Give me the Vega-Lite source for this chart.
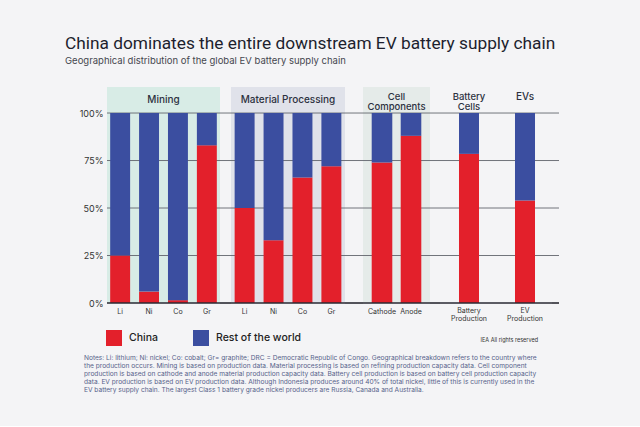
{
  "$schema": "https://vega.github.io/schema/vega-lite/v6.json",
  "background": "#f4f4f6",
  "padding": {"left": 65, "top": 35, "right": 80, "bottom": 32},
  "title": {
    "text": "China dominates the entire downstream EV battery supply chain",
    "subtitle": "Geographical distribution of the global EV battery supply chain",
    "anchor": "start",
    "frame": "group",
    "dx": -42,
    "font": "Roboto",
    "fontSize": 17.3,
    "fontWeight": "normal",
    "color": "#1d1f2e",
    "subtitleFont": "Inter",
    "subtitleFontSize": 9.5,
    "subtitleColor": "#45474f",
    "subtitlePadding": 3,
    "offset": 22
  },
  "datasets": {
    "grid": [{"v": 0}, {"v": 0.25}, {"v": 0.5}, {"v": 0.75}, {"v": 1}],
    "bars": [
      {"stage": "Mining", "item": "Li", "region": "China", "share": 0.25},
      {"stage": "Mining", "item": "Li", "region": "Rest of the world", "share": 0.75},
      {"stage": "Mining", "item": "Ni", "region": "China", "share": 0.06},
      {"stage": "Mining", "item": "Ni", "region": "Rest of the world", "share": 0.94},
      {"stage": "Mining", "item": "Co", "region": "China", "share": 0.015},
      {"stage": "Mining", "item": "Co", "region": "Rest of the world", "share": 0.985},
      {"stage": "Mining", "item": "Gr", "region": "China", "share": 0.83},
      {"stage": "Mining", "item": "Gr", "region": "Rest of the world", "share": 0.17},
      {"stage": "Material Processing", "item": "Li", "region": "China", "share": 0.5},
      {"stage": "Material Processing", "item": "Li", "region": "Rest of the world", "share": 0.5},
      {"stage": "Material Processing", "item": "Ni", "region": "China", "share": 0.33},
      {"stage": "Material Processing", "item": "Ni", "region": "Rest of the world", "share": 0.67},
      {"stage": "Material Processing", "item": "Co", "region": "China", "share": 0.66},
      {"stage": "Material Processing", "item": "Co", "region": "Rest of the world", "share": 0.34},
      {"stage": "Material Processing", "item": "Gr", "region": "China", "share": 0.72},
      {"stage": "Material Processing", "item": "Gr", "region": "Rest of the world", "share": 0.28},
      {"stage": "Cell Components", "item": "Cathode", "region": "China", "share": 0.74},
      {"stage": "Cell Components", "item": "Cathode", "region": "Rest of the world", "share": 0.26},
      {"stage": "Cell Components", "item": "Anode", "region": "China", "share": 0.88},
      {"stage": "Cell Components", "item": "Anode", "region": "Rest of the world", "share": 0.12},
      {"stage": "Battery Cells", "item": "Battery Production", "region": "China", "share": 0.785},
      {"stage": "Battery Cells", "item": "Battery Production", "region": "Rest of the world", "share": 0.215},
      {"stage": "EVs", "item": "EV Production", "region": "China", "share": 0.54},
      {"stage": "EVs", "item": "EV Production", "region": "Rest of the world", "share": 0.46}
    ],
    "notes": [
      {"line": 1, "text": "Notes: Li: lithium; Ni: nickel; Co: cobalt; Gr= graphite; DRC = Democratic Republic of Congo. Geographical breakdown refers to the country where"},
      {"line": 2, "text": "the production occurs. Mining is based on production data. Material processing is based on refining production capacity data. Cell component"},
      {"line": 3, "text": "production is based on cathode and anode material production capacity data. Battery cell production is based on battery cell production capacity"},
      {"line": 4, "text": "data. EV production is based on EV production data. Although Indonesia produces around 40% of total nickel, little of this is currently used in the"},
      {"line": 5, "text": "EV battery supply chain. The largest Class 1 battery grade nickel producers are Russia, Canada and Australia."}
    ]
  },
  "resolve": {"scale": {"x": "independent", "y": "independent"}},
  "spacing": 16,
  "vconcat": [
    {
      "spacing": 0,
      "bounds": "flush",
      "resolve": {"scale": {"y": "shared", "x": "independent"}},
      "hconcat": [
        {
          "width": 113, "height": 216,
          "view": {"fill": "#d8ece6"},
          "title": {"text": "Mining", "offset": -18, "fontSize": 10, "fontWeight": 500, "color": "#2c3140"},
          "layer": [
            {
              "data": {"name": "grid"},
              "transform": [{"filter": "datum.v > 0"}],
              "mark": {"type": "rule", "color": "#62656d", "strokeWidth": 0.9},
              "encoding": {
                "y": {"field": "v", "type": "quantitative", "scale": {"domain": [0, 1.137], "nice": false},
                  "axis": {"values": [0, 0.25, 0.5, 0.75, 1], "format": ".0%", "title": null, "domain": false, "ticks": false, "grid": false, "labelPadding": 4, "labelFontSize": 9}}
              }
            },
            {
              "data": {"name": "bars"},
              "transform": [{"filter": "datum.stage == 'Mining'"}],
              "mark": {"type": "bar"},
              "encoding": {
                "x": {"field": "item", "type": "nominal", "sort": null, "scale": {"paddingInner": 0.31, "paddingOuter": 0.11},
                  "axis": {"title": null, "labelAngle": 0, "ticks": false, "domain": false, "labelFontSize": 7, "labelPadding": 4}},
                "y": {"field": "share", "type": "quantitative", "stack": "zero", "scale": {"domain": [0, 1.137], "nice": false},
                  "axis": {"values": [0, 0.25, 0.5, 0.75, 1], "format": ".0%", "title": null, "domain": false, "ticks": false, "grid": false, "labelPadding": 4, "labelFontSize": 9}},
                "color": {"field": "region", "type": "nominal", "scale": {"domain": ["China", "Rest of the world"], "range": ["#e3202b", "#3b4ea0"]}, "legend": {"title": null}},
                "order": {"field": "region", "sort": "ascending"}
              }
            },
            {
              "data": {"name": "grid"},
              "transform": [{"filter": "datum.v == 0"}],
              "mark": {"type": "rule", "color": "#2a2a33", "strokeWidth": 1.6},
              "encoding": {"y": {"field": "v", "type": "quantitative", "scale": {"domain": [0, 1.137], "nice": false},
                  "axis": {"values": [0, 0.25, 0.5, 0.75, 1], "format": ".0%", "title": null, "domain": false, "ticks": false, "grid": false, "labelPadding": 4, "labelFontSize": 9}}}
            }
          ]
        },
        {
          "width": 11, "height": 216,
          "data": {"name": "grid"},
          "layer": [
            {"transform": [{"filter": "datum.v > 0"}], "mark": {"type": "rule", "color": "#62656d", "strokeWidth": 0.9},
              "encoding": {"y": {"field": "v", "type": "quantitative", "scale": {"domain": [0, 1.137], "nice": false}, "axis": null}}},
            {"transform": [{"filter": "datum.v == 0"}], "mark": {"type": "rule", "color": "#2a2a33", "strokeWidth": 1.6},
              "encoding": {"y": {"field": "v", "type": "quantitative", "scale": {"domain": [0, 1.137], "nice": false}, "axis": null}}}
          ]
        },
        {
          "width": 114, "height": 216,
          "view": {"fill": "#e0e2ea"},
          "title": {"text": "Material Processing", "offset": -18, "fontSize": 10, "fontWeight": 500, "color": "#2c3140"},
          "layer": [
            {"data": {"name": "grid"}, "transform": [{"filter": "datum.v > 0"}], "mark": {"type": "rule", "color": "#62656d", "strokeWidth": 0.9},
              "encoding": {"y": {"field": "v", "type": "quantitative", "scale": {"domain": [0, 1.137], "nice": false}, "axis": null}}},
            {
              "data": {"name": "bars"},
              "transform": [{"filter": "datum.stage == 'Material Processing'"}],
              "mark": {"type": "bar"},
              "encoding": {
                "x": {"field": "item", "type": "nominal", "sort": null, "scale": {"paddingInner": 0.31, "paddingOuter": 0.126},
                  "axis": {"title": null, "labelAngle": 0, "ticks": false, "domain": false, "labelFontSize": 7, "labelPadding": 4}},
                "y": {"field": "share", "type": "quantitative", "stack": "zero", "scale": {"domain": [0, 1.137], "nice": false}, "axis": null},
                "color": {"field": "region", "type": "nominal"},
                "order": {"field": "region", "sort": "ascending"}
              }
            },
            {"data": {"name": "grid"}, "transform": [{"filter": "datum.v == 0"}], "mark": {"type": "rule", "color": "#2a2a33", "strokeWidth": 1.6},
              "encoding": {"y": {"field": "v", "type": "quantitative", "scale": {"domain": [0, 1.137], "nice": false}, "axis": null}}}
          ]
        },
        {
          "width": 18, "height": 216,
          "data": {"name": "grid"},
          "layer": [
            {"transform": [{"filter": "datum.v > 0"}], "mark": {"type": "rule", "color": "#62656d", "strokeWidth": 0.9},
              "encoding": {"y": {"field": "v", "type": "quantitative", "scale": {"domain": [0, 1.137], "nice": false}, "axis": null}}},
            {"transform": [{"filter": "datum.v == 0"}], "mark": {"type": "rule", "color": "#2a2a33", "strokeWidth": 1.6},
              "encoding": {"y": {"field": "v", "type": "quantitative", "scale": {"domain": [0, 1.137], "nice": false}, "axis": null}}}
          ]
        },
        {
          "width": 67, "height": 216,
          "view": {"fill": "#e5ebe9"},
          "title": {"text": ["Cell", "Components"], "offset": -24, "fontSize": 9.5, "fontWeight": 500, "color": "#2c3140", "lineHeight": 9.5},
          "layer": [
            {"data": {"name": "grid"}, "transform": [{"filter": "datum.v > 0"}], "mark": {"type": "rule", "color": "#62656d", "strokeWidth": 0.9},
              "encoding": {"y": {"field": "v", "type": "quantitative", "scale": {"domain": [0, 1.137], "nice": false}, "axis": null}}},
            {
              "data": {"name": "bars"},
              "transform": [{"filter": "datum.stage == 'Cell Components'"}],
              "mark": {"type": "bar"},
              "encoding": {
                "x": {"field": "item", "type": "nominal", "sort": null, "scale": {"paddingInner": 0.29, "paddingOuter": 0.3},
                  "axis": {"title": null, "labelAngle": 0, "ticks": false, "domain": false, "labelFontSize": 7, "labelPadding": 4}},
                "y": {"field": "share", "type": "quantitative", "stack": "zero", "scale": {"domain": [0, 1.137], "nice": false}, "axis": null},
                "color": {"field": "region", "type": "nominal"},
                "order": {"field": "region", "sort": "ascending"}
              }
            },
            {"data": {"name": "grid"}, "transform": [{"filter": "datum.v == 0"}], "mark": {"type": "rule", "color": "#2a2a33", "strokeWidth": 1.6},
              "encoding": {"y": {"field": "v", "type": "quantitative", "scale": {"domain": [0, 1.137], "nice": false}, "axis": null}}}
          ]
        },
        {
          "width": 10, "height": 216,
          "data": {"name": "grid"},
          "layer": [
            {"transform": [{"filter": "datum.v > 0"}], "mark": {"type": "rule", "color": "#62656d", "strokeWidth": 0.9},
              "encoding": {"y": {"field": "v", "type": "quantitative", "scale": {"domain": [0, 1.137], "nice": false}, "axis": null}}},
            {"transform": [{"filter": "datum.v == 0"}], "mark": {"type": "rule", "color": "#2a2a33", "strokeWidth": 1.6},
              "encoding": {"y": {"field": "v", "type": "quantitative", "scale": {"domain": [0, 1.137], "nice": false}, "axis": null}}}
          ]
        },
        {
          "width": 58, "height": 216,
          "title": {"text": ["Battery", "Cells"], "offset": -24, "fontSize": 9.5, "fontWeight": 500, "color": "#2c3140", "lineHeight": 9.5},
          "layer": [
            {"data": {"name": "grid"}, "transform": [{"filter": "datum.v > 0"}], "mark": {"type": "rule", "color": "#62656d", "strokeWidth": 0.9},
              "encoding": {"y": {"field": "v", "type": "quantitative", "scale": {"domain": [0, 1.137], "nice": false}, "axis": null}}},
            {
              "data": {"name": "bars"},
              "transform": [{"filter": "datum.stage == 'Battery Cells'"}],
              "mark": {"type": "bar"},
              "encoding": {
                "x": {"field": "item", "type": "nominal", "sort": null, "scale": {"paddingInner": 0.31, "paddingOuter": 0.655},
                  "axis": {"title": null, "labelAngle": 0, "ticks": false, "domain": false, "labelFontSize": 7, "labelPadding": 3, "labelExpr": "split(datum.label, ' ')", "labelLineHeight": 8}},
                "y": {"field": "share", "type": "quantitative", "stack": "zero", "scale": {"domain": [0, 1.137], "nice": false}, "axis": null},
                "color": {"field": "region", "type": "nominal"},
                "order": {"field": "region", "sort": "ascending"}
              }
            },
            {"data": {"name": "grid"}, "transform": [{"filter": "datum.v == 0"}], "mark": {"type": "rule", "color": "#2a2a33", "strokeWidth": 1.6},
              "encoding": {"y": {"field": "v", "type": "quantitative", "scale": {"domain": [0, 1.137], "nice": false}, "axis": null}}}
          ]
        },
        {
          "width": 54, "height": 216,
          "title": {"text": "EVs", "offset": -15, "fontSize": 10, "fontWeight": 500, "color": "#2c3140"},
          "layer": [
            {"data": {"name": "grid"}, "transform": [{"filter": "datum.v > 0"}], "mark": {"type": "rule", "color": "#62656d", "strokeWidth": 0.9},
              "encoding": {"y": {"field": "v", "type": "quantitative", "scale": {"domain": [0, 1.137], "nice": false}, "axis": null}}},
            {
              "data": {"name": "bars"},
              "transform": [{"filter": "datum.stage == 'EVs'"}],
              "mark": {"type": "bar"},
              "encoding": {
                "x": {"field": "item", "type": "nominal", "sort": null, "scale": {"paddingInner": 0.31, "paddingOuter": 0.586},
                  "axis": {"title": null, "labelAngle": 0, "ticks": false, "domain": false, "labelFontSize": 7, "labelPadding": 3, "labelExpr": "split(datum.label, ' ')", "labelLineHeight": 8}},
                "y": {"field": "share", "type": "quantitative", "stack": "zero", "scale": {"domain": [0, 1.137], "nice": false}, "axis": null},
                "color": {"field": "region", "type": "nominal"},
                "order": {"field": "region", "sort": "ascending"}
              }
            },
            {"data": {"name": "grid"}, "transform": [{"filter": "datum.v == 0"}], "mark": {"type": "rule", "color": "#2a2a33", "strokeWidth": 1.6},
              "encoding": {"y": {"field": "v", "type": "quantitative", "scale": {"domain": [0, 1.137], "nice": false}, "axis": null}}}
          ]
        },
        {
          "width": 7, "height": 216,
          "data": {"name": "grid"},
          "layer": [
            {"transform": [{"filter": "datum.v > 0"}], "mark": {"type": "rule", "color": "#62656d", "strokeWidth": 0.9},
              "encoding": {"y": {"field": "v", "type": "quantitative", "scale": {"domain": [0, 1.137], "nice": false}, "axis": null}}},
            {"transform": [{"filter": "datum.v == 0"}], "mark": {"type": "rule", "color": "#2a2a33", "strokeWidth": 1.6},
              "encoding": {"y": {"field": "v", "type": "quantitative", "scale": {"domain": [0, 1.137], "nice": false}, "axis": null}}}
          ]
        }
      ]
    },
    {
      "width": 431, "height": 40,
      "title": {"text": "IEA All rights reserved", "anchor": "end", "fontSize": 5.5, "fontWeight": 400, "color": "#333", "offset": 11},
      "data": {"name": "notes"},
      "mark": {"type": "text", "align": "left", "baseline": "middle", "fontSize": 6.6, "color": "#56628a", "dx": -23},
      "encoding": {
        "y": {"field": "line", "type": "ordinal", "axis": null, "scale": {"padding": 0.5}},
        "x": {"datum": 0, "type": "quantitative", "scale": {"domain": [0, 1]}, "axis": null},
        "text": {"field": "text"}
      }
    }
  ],
  "config": {
    "font": "Inter",
    "view": {"stroke": null},
    "axis": {"labelColor": "#333"},
    "legend": {
      "orient": "none",
      "legendX": -1,
      "legendY": 243,
      "direction": "horizontal",
      "symbolType": "square",
      "symbolSize": 256,
      "symbolStrokeWidth": 0,
      "symbolOpacity": 1,
      "labelFontSize": 10.5,
      "labelFontWeight": 500,
      "labelColor": "#222",
      "labelOffset": 7,
      "columnPadding": 35
    }
  }
}
